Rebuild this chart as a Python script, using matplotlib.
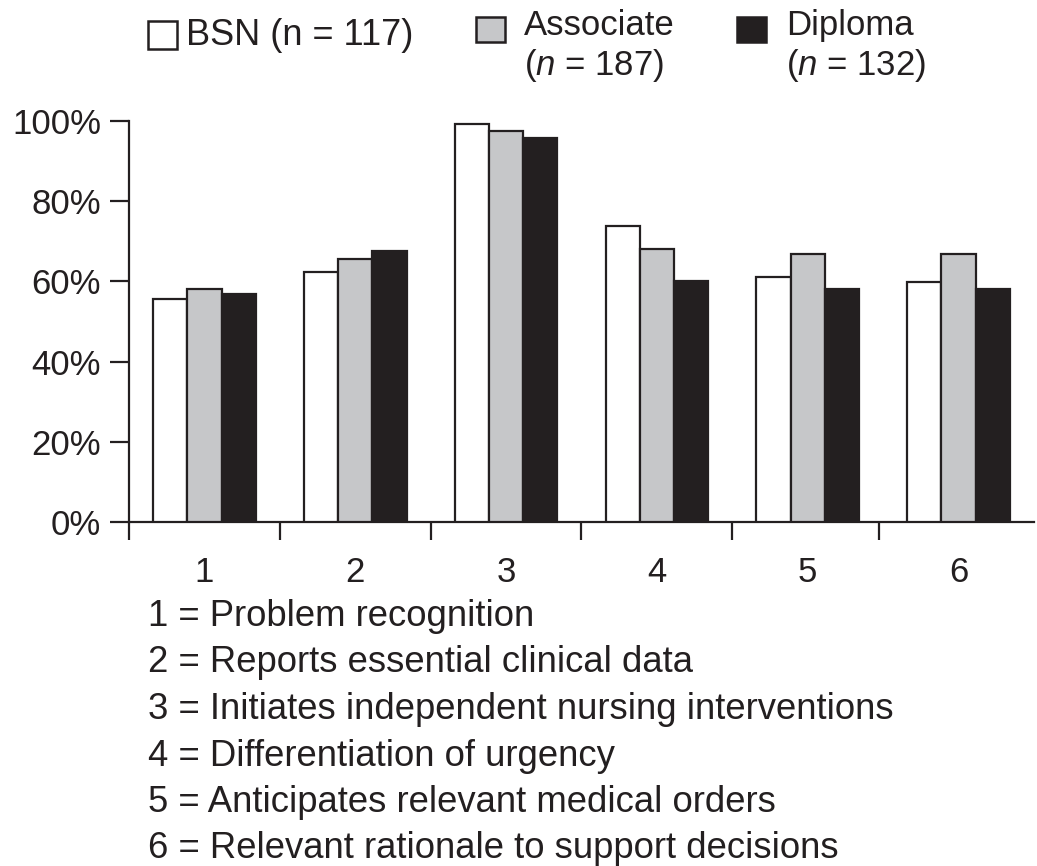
import matplotlib
matplotlib.use('Agg')
import matplotlib.pyplot as plt
from matplotlib.patches import Rectangle
import numpy as np

plt.rcParams['font.family'] = ['Liberation Sans', 'DejaVu Sans']
plt.rcParams['mathtext.fontset'] = 'custom'
plt.rcParams['mathtext.it'] = 'Liberation Sans:italic'
plt.rcParams['mathtext.rm'] = 'Liberation Sans'

# Data (percent of nurses meeting each criterion)
categories = ['1', '2', '3', '4', '5', '6']
bsn = [55.6, 62.4, 99.2, 73.7, 61.2, 59.9]
associate = [58.0, 65.5, 97.4, 68.1, 66.8, 66.8]
diploma = [56.9, 67.5, 95.6, 60.1, 58.2, 58.2]
yticks = [0, 20, 40, 60, 80, 100]
descriptions = [
    '1 = Problem recognition',
    '2 = Reports essential clinical data',
    '3 = Initiates independent nursing interventions',
    '4 = Differentiation of urgency',
    '5 = Anticipates relevant medical orders',
    '6 = Relevant rationale to support decisions',
]

DARK = '#231f20'
GRAY = '#c6c7c9'
FS = 25

W, H = 1037, 866
fig = plt.figure(figsize=(W / 100, H / 100), dpi=100)
ax = fig.add_axes([129 / W, 1 - 522.3 / H, (1034 - 129) / W, (522.3 - 120.7) / H])

x = np.arange(len(categories))
w = 0.227
kw = dict(edgecolor=DARK, linewidth=1.6, zorder=3)
ax.bar(x - w, bsn, w, color='white', **kw)
ax.bar(x, associate, w, color=GRAY, **kw)
ax.bar(x + w, diploma, w, color=DARK, **kw)

ax.set_xlim(-0.5, 5.5)
ax.set_ylim(0, 100)
ax.set_yticks(yticks)
ax.set_yticklabels([f'{v}%' for v in yticks], fontsize=FS, color=DARK)
ax.set_xticks(x)
ax.set_xticklabels(categories, fontsize=FS, color=DARK)
ax.set_xticks(np.arange(-0.5, 4.6, 1.0) - np.array([0, 0, 0, 0, 0, 0.03]), minor=True)
ax.tick_params(axis='x', which='major', length=0, pad=24)
ax.tick_params(axis='x', which='minor', length=13, width=1.6, color=DARK, direction='out')
ax.tick_params(axis='y', length=14, width=1.6, color=DARK, direction='out', pad=6)

for s in ['top', 'right']:
    ax.spines[s].set_visible(False)
for s in ['left', 'bottom']:
    ax.spines[s].set_linewidth(1.6)
    ax.spines[s].set_color(DARK)


# Legend drawn by hand (two-line labels), positions in pixels from top-left
def box(x0, y0, x1, y1, face):
    fig.patches.append(Rectangle((x0 / W, 1 - y1 / H), (x1 - x0) / W, (y1 - y0) / H,
                                 transform=fig.transFigure, facecolor=face,
                                 edgecolor=DARK, linewidth=1.8))


def label(px, py, s, size=FS):
    fig.text(px / W, 1 - py / H, s, fontsize=size, color=DARK, va='baseline')


box(148, 21, 177, 49, 'white')
box(476, 17, 505, 42, GRAY)
box(737, 17, 766, 42, DARK)
label(186, 45, 'BSN (n = 117)', FS + 1)
label(524, 35, 'Associate')
label(524, 75, '($n$ = 187)')
label(786, 35, 'Diploma')
label(786, 75, '($n$ = 132)')

# Category descriptions below the axis
for i, d in enumerate(descriptions):
    label(148, 626 + i * 46.5, d, FS + 1.3)

fig.savefig('out.png', dpi=100)
